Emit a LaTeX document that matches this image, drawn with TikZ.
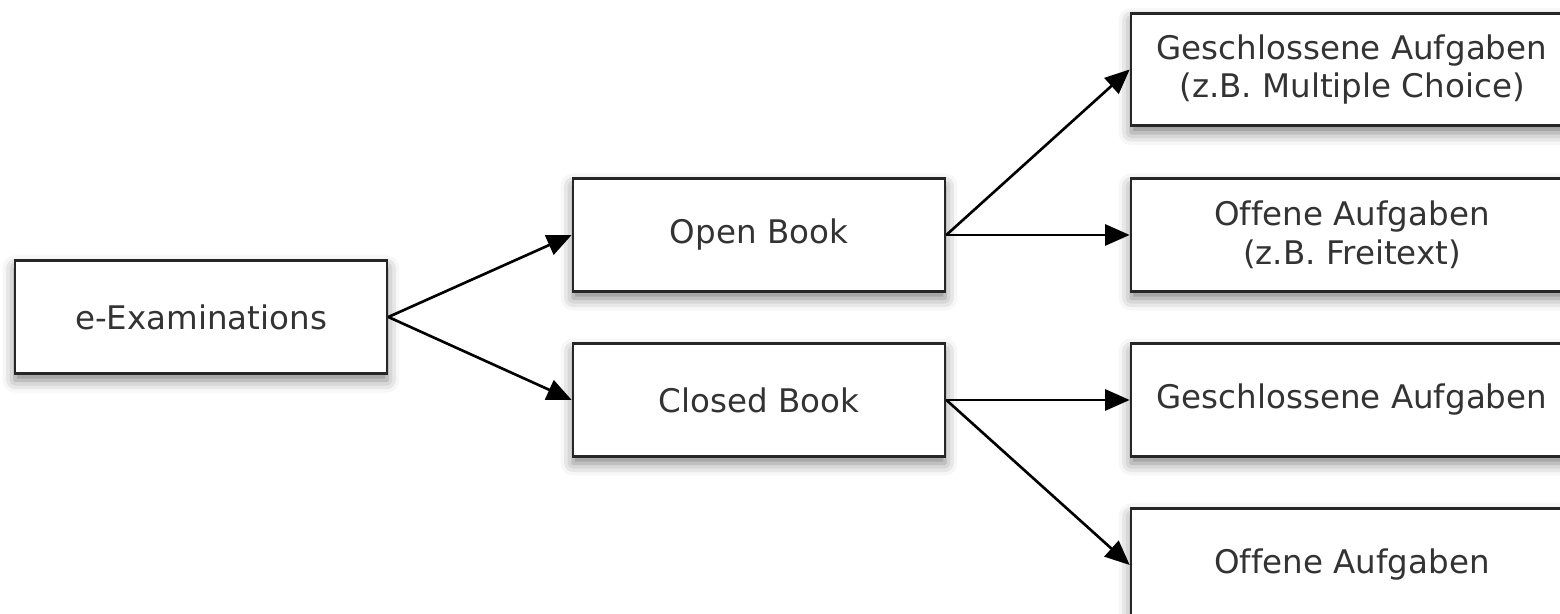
\documentclass[tikz,border=0pt]{standalone}
\usepackage{fontspec}
\setmainfont[Ligatures=NoCommon]{DejaVu Sans}
\usetikzlibrary{arrows.meta,shadows.blur}

\begin{document}
\begin{tikzpicture}[box/.style={rectangle,draw=black!85,line width=1.5pt,fill=white,
    minimum width=7.44cm,minimum height=2.25cm,align=center,text=black!80,
    font=\fontsize{18.5}{22}\selectfont,
    blur shadow={shadow xshift=0pt,shadow yshift=-4pt,shadow blur radius=7pt,shadow opacity=50}},
  wide/.style={box,minimum width=8.84cm},
  arr/.style={-{Triangle[length=14pt,width=12pt]},line width=1.5pt}]
\useasboundingbox (0,0) rectangle (31.2,12.28);
\node[box] at (4.02,5.94) (exam) {e-Examinations};
\node[box] at (15.18,7.58) (open) {Open Book};
\node[box] at (15.18,4.28) (closed) {Closed Book};
\node[wide] at (27.04,10.89) (g1) {Geschlossene Aufgaben\\(z.B. Multiple Choice)};
\node[wide] at (27.04,7.58) (o1) {Offene Aufgaben\\(z.B. Freitext)};
\node[wide] at (27.04,4.28) (g2) {Geschlossene Aufgaben};
\node[wide] at (27.04,0.98) (o2) {Offene Aufgaben};

\draw[arr] (exam.east) -- (open.west);
\draw[arr] (exam.east) -- (closed.west);
\draw[arr] (open.east) -- (g1.west);
\draw[arr] (open.east) -- (o1.west);
\draw[arr] (closed.east) -- (g2.west);
\draw[arr] (closed.east) -- (o2.west);
\end{tikzpicture}
\end{document}
